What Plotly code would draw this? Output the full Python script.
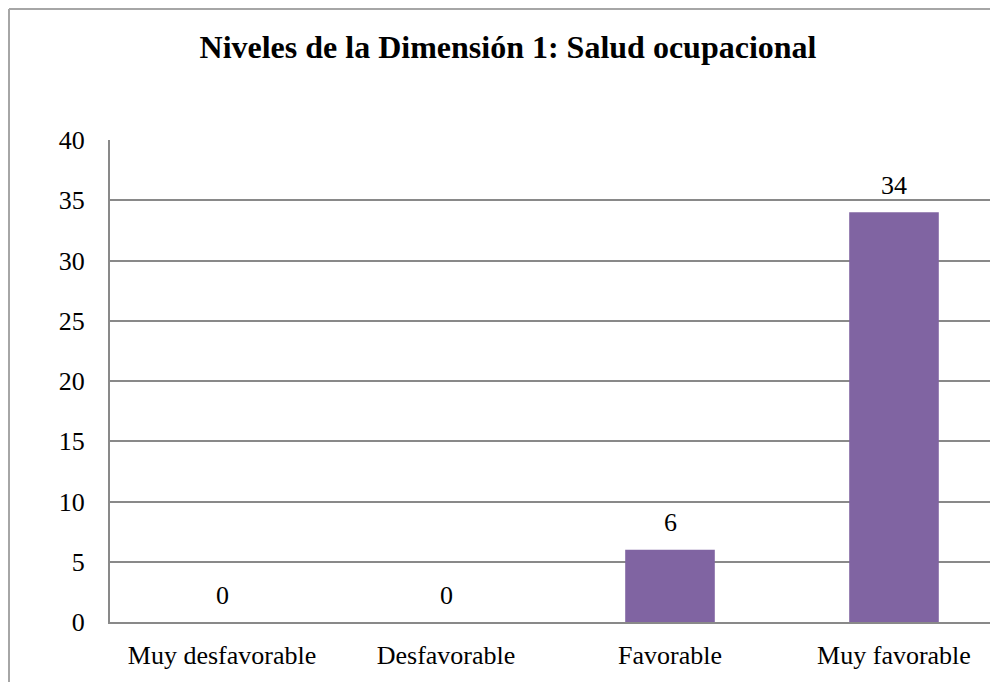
import plotly.graph_objects as go

categories = ["Muy desfavorable", "Desfavorable", "Favorable", "Muy favorable"]
values = [0, 0, 6, 34]
y_ticks = [0, 5, 10, 15, 20, 25, 30, 35, 40]

# page body adds an 8px offset; figure sized to fill the rest of the window
OFF = 8
W, H = 998 - OFF, 682 - OFF
L, R, T = 110 - OFF, 0, 140 - OFF
B = H - (622 - OFF)
pw = W - L - R
ph = H - T - B

def px(x):
    return (x - OFF - L) / pw

def py(y):
    return (H - B - (y - OFF)) / ph

xs = list(range(len(categories)))

fig = go.Figure()
fig.add_trace(go.Bar(
    x=xs, y=values,
    marker=dict(color="#8064A2", line=dict(width=0)),
    width=0.40,
))

for xi, v in zip(xs, values):
    fig.add_annotation(x=xi, y=v, text=str(v), showarrow=False,
                       xanchor="center", yanchor="middle", yshift=27,
                       font=dict(family="Liberation Serif", size=26, color="#000000"))

fig.update_layout(
    width=W, height=H,
    margin=dict(l=L, r=R, t=T, b=B),
    paper_bgcolor="white", plot_bgcolor="white",
    showlegend=False,
    title=dict(text="<b>Niveles de la Dimensión 1: Salud ocupacional</b>",
               x=(508 - OFF) / W, xanchor="center", y=1 - (47 - OFF) / H, yanchor="middle",
               font=dict(family="Liberation Serif", size=32, color="#000000")),
    font=dict(family="Liberation Serif", size=26, color="#000000"),
)
fig.update_xaxes(
    tickvals=xs, ticktext=categories,
    range=[-0.5, -0.5 + pw / 224],
    showline=True, linecolor="#898989", linewidth=2,
    showgrid=False, ticks="", ticklabelstandoff=9,
    tickfont=dict(family="Liberation Serif", size=26),
)
fig.update_yaxes(
    range=[0, 40], tickvals=y_ticks,
    showline=True, linecolor="#898989", linewidth=2,
    showgrid=True, gridcolor="#898989", gridwidth=2,
    ticks="", ticklabelstandoff=18, zeroline=False,
    tickfont=dict(family="Liberation Serif", size=26),
)

# outer chart frame (cropped at right and bottom)
fig.add_shape(type="line", xref="paper", yref="paper",
              x0=px(9), x1=px(9), y0=py(9), y1=py(700),
              line=dict(color="#A6A6A6", width=2), layer="above")
fig.add_shape(type="line", xref="paper", yref="paper",
              x0=px(9), x1=px(1010), y0=py(9), y1=py(9),
              line=dict(color="#A6A6A6", width=2), layer="above")

fig.write_html("out.html")
